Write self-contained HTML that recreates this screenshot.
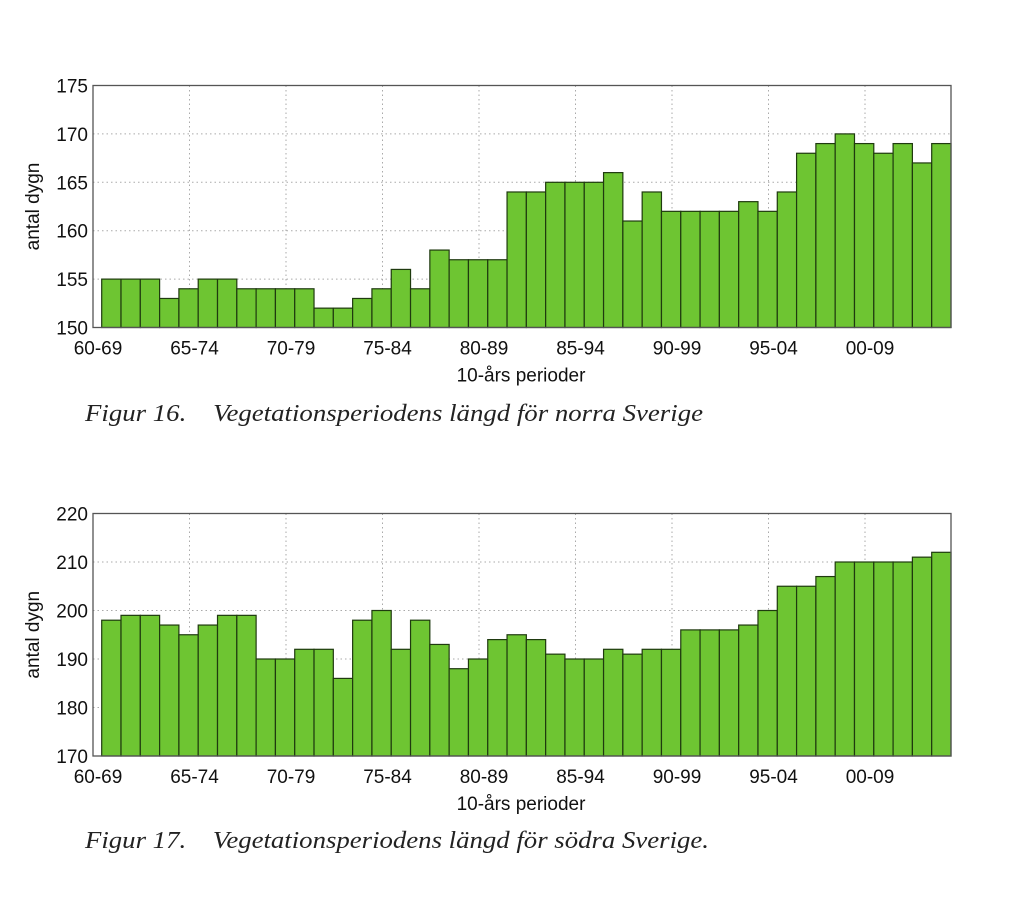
<!DOCTYPE html><html><head><meta charset="utf-8"><style>body{margin:0;background:#fff}</style></head><body>
<svg width="1024" height="892" xmlns="http://www.w3.org/2000/svg" font-family="Liberation Sans, sans-serif">
<g id="c"></g>
</svg>
<script>
function chart(top,bot,ymin,ymax,step,vals,cap,capY,capW){
 const L=93,R=951,x0=101.7,bw=(R-x0)/44;let s='';
 const Y=v=>bot-(v-ymin)/(ymax-ymin)*(bot-top);
 for(let v=ymin;v<=ymax;v+=step){const y=Y(v);
  if(v>ymin&&v<ymax)s+=`<line x1="${L}" x2="${R}" y1="${y}" y2="${y}" stroke="#aaa" stroke-dasharray="1.5,3"/>`;
  s+=`<text x="${L-5}" y="${y+7}" font-size="19" text-anchor="end" fill="#111">${v}</text>`;}
 const labs=['60-69','65-74','70-79','75-84','80-89','85-94','90-99','95-04','00-09'];
 labs.forEach((t,i)=>{const x=L+96.5*i;
  if(i>0)s+=`<line x1="${x}" x2="${x}" y1="${top}" y2="${bot}" stroke="#aaa" stroke-dasharray="1.5,3"/>`;
  s+=`<text x="${x+5}" y="${bot+27}" font-size="19" text-anchor="middle" fill="#111">${t}</text>`;});
 vals.forEach((v,i)=>{const y=Y(v);s+=`<rect x="${x0+i*bw}" y="${y}" width="${bw}" height="${bot-y}" fill="#6ec532" stroke="#1f3a0f" stroke-width="1.2"/>`;});
 s+=`<rect x="${L}" y="${top}" width="${R-L}" height="${bot-top}" fill="none" stroke="#555" stroke-width="1.3"/>`;
 s+=`<text x="521" y="${bot+54}" font-size="19" text-anchor="middle" fill="#111">10-års perioder</text>`;
 s+=`<text transform="translate(39,${(top+bot)/2}) rotate(-90)" font-size="19" text-anchor="middle" fill="#111">antal dygn</text>`;
 s+=`<text x="85" y="${capY}" font-size="24" font-style="italic" font-family="Liberation Serif, serif" fill="#222" textLength="${capW}" lengthAdjust="spacingAndGlyphs" xml:space="preserve">${cap}</text>`;
 return s;}
const a=[155,155,155,153,154,155,155,154,154,154,154,152,152,153,154,156,154,158,157,157,157,164,164,165,165,165,166,161,164,162,162,162,162,163,162,164,168,169,170,169,168,169,167,169];
const b=[198,199,199,197,195,197,199,199,190,190,192,192,186,198,200,192,198,193,188,190,194,195,194,191,190,190,192,191,192,192,196,196,196,197,200,205,205,207,210,210,210,210,211,212];
document.getElementById('c').innerHTML=chart(85.5,327.5,150,175,5,a,'Figur 16.&#160;&#160;&#160;&#160;Vegetationsperiodens längd för norra Sverige',421,618)+chart(513.5,756,170,220,10,b,'Figur 17.&#160;&#160;&#160;&#160;Vegetationsperiodens längd för södra Sverige.',848,624);
</script>
</body></html>
